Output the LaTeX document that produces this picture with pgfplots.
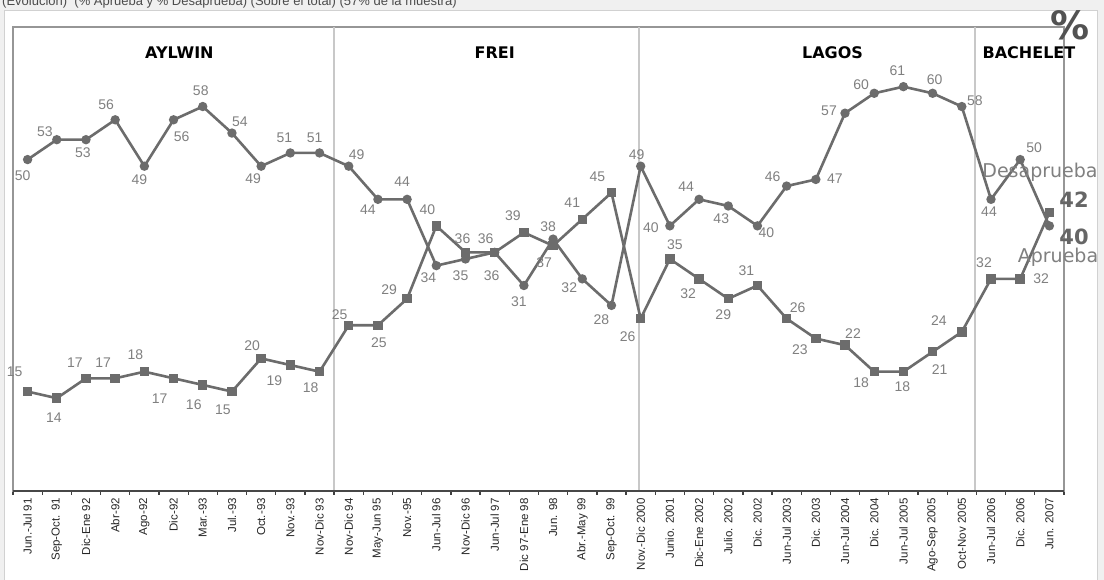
\documentclass[border=0pt]{standalone}
\usepackage{fontspec}
\setmainfont{Liberation Sans}
\newfontfamily\dejavu{DejaVu Sans}
\usepackage{pgfplots}
\usepackage{pgfplotstable}
\pgfplotsset{compat=1.18}
\definecolor{serie}{RGB}{108,108,108}
\definecolor{lab}{RGB}{128,128,128}
\definecolor{sepc}{RGB}{200,200,200}
\definecolor{framec}{RGB}{150,150,150}

\pgfplotstableread{
x y dx dy lab
0 50 -5 -16 50
1 53 -12 8 53
2 53 -3 -13 53
3 56 -9 15 56
4 49 -5 -13 49
5 56 8 -17 56
6 58 -2 16 58
7 54 8 11 54
8 49 -8 -12 49
9 51 -6 15 51
10 51 -5 15 51
11 49 8 12 49
12 44 -10 -10 44
13 44 -5 18 44
14 34 -8 -12 34
15 35 -5 -17 35
16 36 -3 -23 36
17 31 -5 -16 31
18 38 -5 12 38
19 32 -13 -9 32
20 28 -10 -14 28
21 49 -4 12 49
22 40 -19 -2 40
23 44 -13 13 44
24 43 -7 -13 43
25 40 9 -7 40
26 46 -14 9 46
27 47 19 1 47
28 57 -16 2 57
29 60 -13 9 60
30 61 -6 16 61
31 60 2 14 60
32 58 13 6 58
33 44 -2 -12 44
34 50 14 12 50
35 40 0 0 {}
}\aprueba

\pgfplotstableread{
x y dx dy lab
0 15 -13 20 15
1 14 -3 -19 14
2 17 -11 16 17
3 17 -12 16 17
4 18 -9 17 18
5 17 -14 -20 17
6 16 -9 -20 16
7 15 -9 -18 15
8 20 -9 13 20
9 19 -16 -16 19
10 18 -9 -16 18
11 25 -9 11 25
12 25 1 -17 25
13 29 -18 9 29
14 40 -9 16 40
15 36 -3 14 36
16 36 -9 14 36
17 39 -11 17 39
18 37 -9 -17 37
19 41 -10 17 41
20 45 -14 16 45
21 26 -13 -18 26
22 35 5 14 35
23 32 -11 -15 32
24 29 -5 -16 29
25 31 -11 15 31
26 26 11 11 26
27 23 -16 -11 23
28 22 8 12 22
29 18 -13 -11 18
30 18 -1 -15 18
31 21 7 -18 21
32 24 -23 11 24
33 32 -7 16 32
34 32 21 0 32
35 42 0 0 {}
}\desaprueba

\begin{document}
\begin{tikzpicture}[x=1bp,y=1bp]
\path[use as bounding box] (0,0) rectangle (1104,580);
\fill[black!6] (0,0) rectangle (1104,580);
\fill[white, draw=black!18] (4,-5) rectangle (1097,570);
\node[anchor=base west, inner sep=0pt, text=black!70, font=\fontsize{13bp}{15bp}\selectfont] at (2,574.5)
  {(Evolución)\ \ (\% Aprueba y \% Desaprueba) (Sobre el total) (57\% de la muestra)};

\begin{axis}[
  scale only axis, width=1051bp, height=464bp,
  at={(13bp,89bp)}, anchor=south west,
  xmin=-0.5, xmax=35.5, ymin=0, ymax=70,
  clip=false,
  axis line style={framec, line width=1.3bp},
  ytick=\empty,
  xtick={0,...,35},
  xticklabels={Jun.-Jul 91, Sep-Oct. 91, Dic-Ene 92, Abr-92, Ago-92, Dic-92, Mar.-93, Jul.-93, Oct.-93, Nov.-93, Nov-Dic 93, Nov-Dic 94, May-Jun 95, Nov.-95, Jun-Jul 96, Nov-Dic 96, Jun-Jul 97, Dic 97-Ene 98, Jun. 98, Abr.-May 99, Sep-Oct. 99, Nov.-Dic 2000, Junio. 2001, Dic-Ene 2002, Julio. 2002, Dic. 2002, Jun-Jul 2003, Dic. 2003, Jun-Jul 2004, Dic. 2004, Jun-Jul 2005, Ago-Sep 2005, Oct-Nov 2005, Jun-Jul 2006, Dic. 2006, Jun. 2007},
  xticklabel style={yshift=-7bp, rotate=90, anchor=east, inner sep=0pt, font=\fontsize{11.5bp}{13bp}\selectfont, text=black!85},
  major tick length=0pt,
  minor xtick={-0.5,0.5,...,35.5},
  minor tick length=4bp,
  tick align=outside,
  xtick pos=left,
  minor tick style={black!75, line width=1.3bp},
  nodes near coords,
  point meta=explicit symbolic,
  visualization depends on={\thisrow{dx} \as \ldx},
  visualization depends on={\thisrow{dy} \as \ldy},
  every node near coord/.style={anchor=center, inner sep=0pt, text=lab,
     font=\fontsize{14bp}{16bp}\selectfont, xshift=\ldx*1bp, yshift=\ldy*1bp},
]
\draw[sepc, line width=2bp] (axis cs:10.5,0) -- (axis cs:10.5,70);
\draw[sepc, line width=2bp] (axis cs:20.95,0) -- (axis cs:20.95,70);
\draw[sepc, line width=2bp] (axis cs:32.45,0) -- (axis cs:32.45,70);
\draw[black!72, line width=2bp] (axis cs:-0.5,0) -- (axis cs:35.5,0);

\addplot[serie, line width=2.6bp, mark=*, mark size=3.3bp, mark options={solid, fill=serie}]
  table[x=x, y=y, meta=lab] {\aprueba};
\addplot[serie, line width=2.6bp, mark=square*, mark size=3.4bp, mark options={solid, fill=serie}]
  table[x=x, y=y, meta=lab] {\desaprueba};

\node[font=\dejavu\bfseries\fontsize{16bp}{18bp}\selectfont] at (axis cs:5.2,66.2) {AYLWIN};
\node[font=\dejavu\bfseries\fontsize{16bp}{18bp}\selectfont] at (axis cs:16.0,66.2) {FREI};
\node[font=\dejavu\bfseries\fontsize{16bp}{18bp}\selectfont] at (axis cs:27.57,66.2) {LAGOS};
\node[font=\dejavu\bfseries\fontsize{16bp}{18bp}\selectfont] at (axis cs:34.3,66.2) {BACHELET};
\end{axis}

\node[font=\dejavu\fontsize{19bp}{21bp}\selectfont, text=lab] at (1040,408) {Desaprueba};
\node[font=\dejavu\bfseries\fontsize{21bp}{23bp}\selectfont, text=black!60] at (1074,380) {42};
\node[font=\dejavu\bfseries\fontsize{21bp}{23bp}\selectfont, text=black!60] at (1074,343) {40};
\node[font=\dejavu\fontsize{19bp}{21bp}\selectfont, text=lab] at (1058,323) {Aprueba};
\node[font=\dejavu\bfseries\fontsize{39bp}{41bp}\selectfont, text=black!68, inner sep=0pt] at (1070,555) {\%};
\end{tikzpicture}
\end{document}
